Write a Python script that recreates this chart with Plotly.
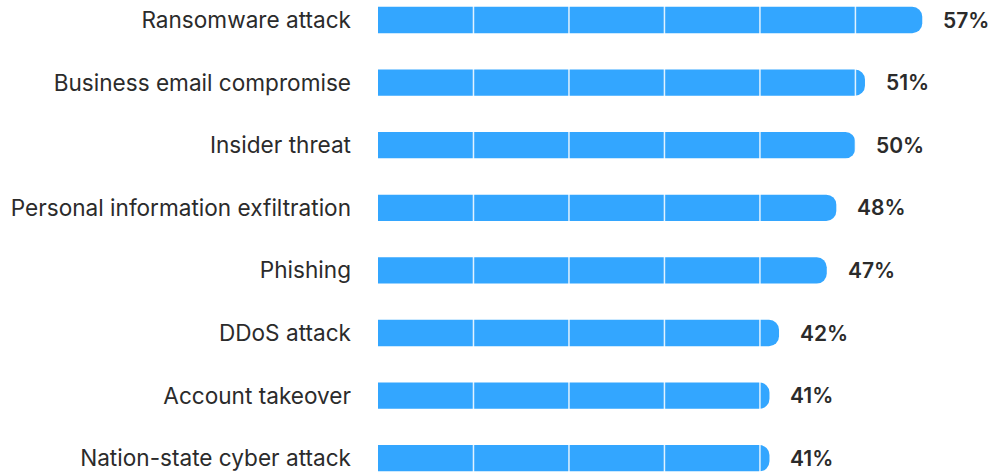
import plotly.graph_objects as go

# Share of respondents concerned about each threat type
categories = [
    "Ransomware attack",
    "Business email compromise",
    "Insider threat",
    "Personal information exfiltration",
    "Phishing",
    "DDoS attack",
    "Account takeover",
    "Nation-state cyber attack",
]
values = [57, 51, 50, 48, 47, 42, 41, 41]
value_labels = [f"{v}%" for v in values]
grid_steps = [10, 20, 30, 40, 50]

BAR_COLOR = "#33a6ff"
TEXT_COLOR = "#2b2b2b"
FONT = "Inter, Roboto, sans-serif"

positions = list(range(len(categories)))

fig = go.Figure(
    go.Bar(
        x=values,
        y=positions,
        orientation="h",
        width=0.42,
        marker=dict(color=BAR_COLOR, line=dict(width=0)),
        hoverinfo="skip",
    )
)

# Value labels to the right of each bar
for p, v, lab in zip(positions, values, value_labels):
    fig.add_annotation(
        x=v, y=p, text=lab, showarrow=False,
        xanchor="left", xshift=19, yanchor="middle",
        font=dict(family=FONT, size=21, weight=600, color=TEXT_COLOR),
    )

# Thin white guide lines drawn across the bars
for g in grid_steps:
    fig.add_shape(
        type="line", x0=g, x1=g, y0=0, y1=1, xref="x", yref="paper",
        line=dict(color="rgba(255,255,255,0.85)", width=1.5), layer="above",
    )

fig.update_layout(
    width=996, height=475,
    margin=dict(l=378, r=26, t=0, b=0),
    paper_bgcolor="white", plot_bgcolor="white",
    barcornerradius=10,
    showlegend=False,
    font=dict(family=FONT, color=TEXT_COLOR),
)
fig.update_xaxes(range=[0, 62], visible=False, fixedrange=True)
fig.update_yaxes(
    range=[7.268, -0.3195],
    tickmode="array", tickvals=positions, ticktext=categories,
    showgrid=False, zeroline=False, showline=False, ticks="",
    ticklabelstandoff=26,
    tickfont=dict(family=FONT, size=22.6, color=TEXT_COLOR),
)

fig.write_html("out.html")
